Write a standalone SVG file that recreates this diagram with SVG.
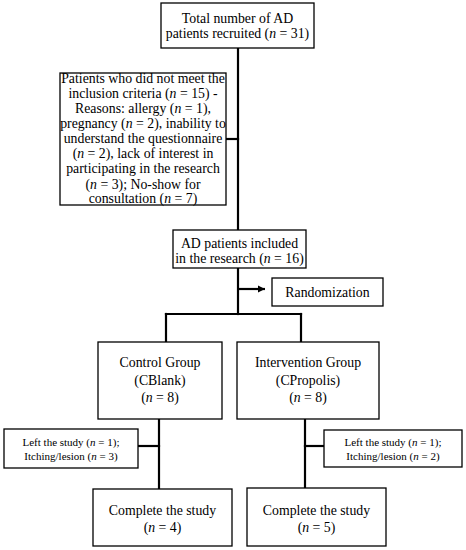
<svg xmlns="http://www.w3.org/2000/svg" width="466" height="550" viewBox="0 0 466 550">
<style>
.box{fill:#fff;stroke:#000;stroke-width:1.3}
.ln{fill:none;stroke:#000;stroke-width:2.2;stroke-linecap:square}
text{font-family:"Liberation Serif","Times New Roman",serif;font-size:13.8px;fill:#000;text-anchor:middle}
.sm{font-size:11px}
.i{font-style:italic}
</style>
<defs>
<marker id="ah" markerWidth="8" markerHeight="8" refX="7" refY="4" orient="auto" markerUnits="userSpaceOnUse">
<path d="M0,0.5 L7,4 L0,7.5 Z" fill="#000"/>
</marker>
</defs>
<rect width="466" height="550" fill="#fff"/>
<g id="connectors">
<line class="ln" x1="238" y1="48" x2="238" y2="230"/>
<line class="ln" x1="226" y1="139" x2="238" y2="139"/>
<line class="ln" x1="238" y1="268" x2="238" y2="314"/>
<line class="ln" x1="238" y1="289" x2="265" y2="289" marker-end="url(#ah)" style="stroke-linecap:butt"/>
<line class="ln" x1="166" y1="314" x2="301" y2="314"/>
<line class="ln" x1="166" y1="314" x2="166" y2="342"/>
<line class="ln" x1="301" y1="314" x2="301" y2="342"/>
<line class="ln" x1="159" y1="419" x2="159" y2="489"/>
<line class="ln" x1="138" y1="446" x2="159" y2="446"/>
<line class="ln" x1="305" y1="419" x2="305" y2="488"/>
<line class="ln" x1="305" y1="446" x2="324" y2="446"/>
</g>
<g id="recruited">
<rect class="box" x="161" y="3" width="153" height="45"/>
<text x="237.5" y="23">Total number of AD</text>
<text x="237.5" y="38">patients recruited (<tspan class="i">n</tspan> = 31)</text>
</g>
<g id="excluded">
<rect class="box" x="60" y="73" width="166" height="132"/>
<text x="143" y="82.8">Patients who did not meet the</text>
<text x="143" y="97.9">inclusion criteria (<tspan class="i">n</tspan> = 15) -</text>
<text x="143" y="113">Reasons: allergy (<tspan class="i">n</tspan> = 1),</text>
<text x="143" y="128.1">pregnancy (<tspan class="i">n</tspan> = 2), inability to</text>
<text x="143" y="143.2">understand the questionnaire</text>
<text x="143" y="158.3">(<tspan class="i">n</tspan> = 2), lack of interest in</text>
<text x="143" y="173.4">participating in the research</text>
<text x="143" y="188.5">(<tspan class="i">n</tspan> = 3); No-show for</text>
<text x="143" y="203.2" dy="-0.5">consultation (<tspan class="i">n</tspan> = 7)</text>
</g>
<g id="included">
<rect class="box" x="173" y="230" width="133" height="38"/>
<text x="239.5" y="247.5">AD patients included</text>
<text x="239.5" y="262.5">in the research (<tspan class="i">n</tspan> = 16)</text>
</g>
<g id="randomization">
<rect class="box" x="272" y="278" width="111" height="28"/>
<text x="327.5" y="296.5">Randomization</text>
</g>
<g id="control">
<rect class="box" x="98" y="342" width="124" height="77"/>
<text x="160" y="366.5">Control Group</text>
<text x="160" y="384.5">(CBlank)</text>
<text x="160" y="401.5">(<tspan class="i">n</tspan> = 8)</text>
</g>
<g id="intervention">
<rect class="box" x="237" y="342" width="142" height="77"/>
<text x="308" y="366.5">Intervention Group</text>
<text x="308" y="384.5">(CPropolis)</text>
<text x="308" y="401.5">(<tspan class="i">n</tspan> = 8)</text>
</g>
<g id="left-control">
<rect class="box" x="4" y="429" width="134" height="39"/>
<text class="sm" x="71" y="446">Left the study (<tspan class="i">n</tspan> = 1);</text>
<text class="sm" x="71" y="460">Itching/lesion (<tspan class="i">n</tspan> = 3)</text>
</g>
<g id="left-intervention">
<rect class="box" x="324" y="430" width="138" height="37"/>
<text class="sm" x="393" y="446">Left the study (<tspan class="i">n</tspan> = 1);</text>
<text class="sm" x="393" y="460">Itching/lesion (<tspan class="i">n</tspan> = 2)</text>
</g>
<g id="complete-control">
<rect class="box" x="93" y="489" width="139" height="57"/>
<text x="162.5" y="514.5">Complete the study</text>
<text x="162.5" y="531.5">(<tspan class="i">n</tspan> = 4)</text>
</g>
<g id="complete-intervention">
<rect class="box" x="247" y="488" width="139" height="58"/>
<text x="316.5" y="514.5">Complete the study</text>
<text x="316.5" y="531.5">(<tspan class="i">n</tspan> = 5)</text>
</g>
</svg>
